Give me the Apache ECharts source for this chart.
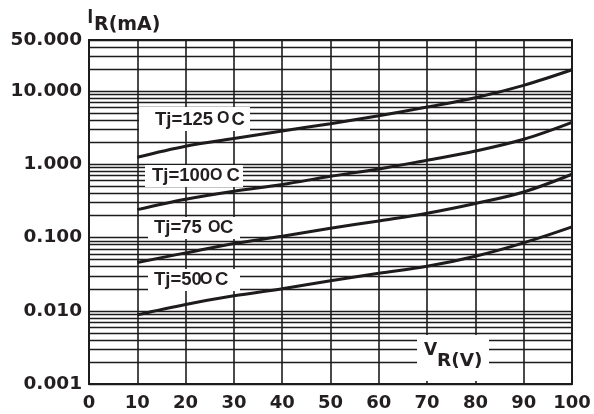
<!DOCTYPE html>
<html>
<head>
<meta charset="utf-8">
<style>
  html, body { margin: 0; padding: 0; background: #fff; }
  #chart { width: 594px; height: 414px; }
</style>
<script src="https://cdn.jsdelivr.net/npm/echarts@6/dist/echarts.min.js"></script>
</head>
<body>
<div id="chart"></div>
<script>
// ---- data ----
const VR = [10, 20, 30, 40, 50, 60, 70, 80, 90, 100];
const TJ125 = [1.25, 1.77, 2.25, 2.86, 3.6, 4.63, 6.07, 8.15, 12.0, 19.6];
const TJ100 = [0.241, 0.334, 0.43, 0.53, 0.688, 0.865, 1.14, 1.52, 2.2, 3.75];
const TJ75  = [0.0457, 0.0618, 0.083, 0.1045, 0.134, 0.169, 0.215, 0.292, 0.42, 0.733];
const TJ50  = [0.0088, 0.0122, 0.016, 0.020, 0.0257, 0.0325, 0.0405, 0.0557, 0.0847, 0.14];
const X_TICKS = [0, 10, 20, 30, 40, 50, 60, 70, 80, 90, 100];
const Y_TICK_LABELS = ['0.001', '0.010', '0.100', '1.000', '10.000', '50.000'];
const MINOR_GRID = [
  0.002, 0.003, 0.004, 0.005, 0.006, 0.007, 0.008, 0.009,
  0.02, 0.03, 0.04, 0.05, 0.06, 0.07, 0.08, 0.09,
  0.2, 0.3, 0.4, 0.5, 0.6, 0.7, 0.8, 0.9,
  2, 3, 4, 5, 6, 7, 8, 9,
  20, 30, 40
];

const INK = '#1e1b1c';
const TXT = '#231f20';
const TICK_FONT = '"DejaVu Sans"';
const LBL_FONT = '"Liberation Sans"';

const chart = echarts.init(document.getElementById('chart'), null, { renderer: 'canvas' });

function pair(arr) { return VR.map((v, i) => [v, arr[i]]); }

function curve(name, arr) {
  return {
    name: name, type: 'line', data: pair(arr), smooth: 0.35,
    symbol: 'none', z: 5,
    lineStyle: { color: INK, width: 3 }, silent: true
  };
}

function textEl(x, y, text, font, size) {
  return {
    type: 'text', x: x, y: y, z: 101, silent: true,
    style: {
      text: text, fill: TXT, font: 'bold ' + size + 'px ' + font,
      textVerticalAlign: 'middle', verticalAlign: 'middle',
      textAlign: 'left', align: 'left'
    }
  };
}
function boxEl(x, y, w, h) {
  return { type: 'rect', z: 100, silent: true, shape: { x: x, y: y, width: w, height: h }, style: { fill: '#ffffff' } };
}

const option = {
  animation: false,
  backgroundColor: '#ffffff',
  grid: { left: 89, right: 22, top: 40, bottom: 30, show: true, borderColor: INK, borderWidth: 2, backgroundColor: 'transparent' },
  xAxis: {
    type: 'value', min: 0, max: 100, interval: 10,
    axisLine: { show: true, lineStyle: { color: INK, width: 2 } },
    axisTick: { show: false },
    splitLine: { show: true, lineStyle: { color: INK, width: 1.6 } },
    axisLabel: {
      color: TXT, fontFamily: TICK_FONT, fontWeight: 'bold', fontSize: 18, margin: 10,
      formatter: function (v) { return X_TICKS.indexOf(v) >= 0 ? String(v) : ''; }
    }
  },
  yAxis: {
    type: 'log', logBase: 10, min: 0.001, max: 50,
    axisLine: { show: true, lineStyle: { color: INK, width: 2 } },
    axisTick: { show: false },
    splitLine: { show: true, lineStyle: { color: INK, width: 1.4 } },
    axisLabel: {
      color: TXT, fontFamily: TICK_FONT, fontWeight: 'bold', fontSize: 18.5, margin: 7,
      formatter: function (v) {
        const s = Number(v).toFixed(3);
        return Y_TICK_LABELS.indexOf(s) >= 0 ? s : '';
      }
    }
  },
  series: [
    {
      name: 'grid-minor', type: 'line', data: [], z: 1, silent: true,
      markLine: {
        silent: true, symbol: ['none', 'none'], animation: false, precision: 8,
        label: { show: false },
        lineStyle: { color: INK, width: 1.4, type: 'solid' },
        emphasis: { disabled: true },
        data: MINOR_GRID.map(v => ({ yAxis: v }))
      }
    },
    curve('Tj=125', TJ125),
    curve('Tj=100', TJ100),
    curve('Tj=75', TJ75),
    curve('Tj=50', TJ50)
  ],
  graphic: [
    // label background boxes
    boxEl(139, 107, 111, 24),
    boxEl(145, 165, 98, 22),
    boxEl(148, 217, 92, 22),
    boxEl(148, 269, 92, 22),
    boxEl(417, 335, 72, 46),
    // Tj labels
    textEl(155, 119.5, 'Tj=125', LBL_FONT, 18.5),
    textEl(217, 118.3, 'O', LBL_FONT, 16),
    textEl(231.5, 119.5, 'C', LBL_FONT, 18.5),
    textEl(152, 176, 'Tj=100', LBL_FONT, 18.5),
    textEl(210, 175.3, 'O', LBL_FONT, 16),
    textEl(226.5, 176, 'C', LBL_FONT, 18.5),
    textEl(154, 228, 'Tj=75', LBL_FONT, 18.5),
    textEl(208, 227.7, 'O', LBL_FONT, 16),
    textEl(220, 228, 'C', LBL_FONT, 18.5),
    textEl(154, 280, 'Tj=50', LBL_FONT, 18.5),
    textEl(200, 279.5, 'O', LBL_FONT, 16),
    textEl(215, 280, 'C', LBL_FONT, 18.5),
    // axis titles
    textEl(87.5, 17.5, 'I', LBL_FONT, 20),
    textEl(94, 25, 'R(mA)', TICK_FONT, 19),
    textEl(424, 351, 'V', TICK_FONT, 17),
    textEl(437, 361.5, 'R(V)', TICK_FONT, 18.5)
  ]
};

chart.setOption(option);
</script>
</body>
</html>
